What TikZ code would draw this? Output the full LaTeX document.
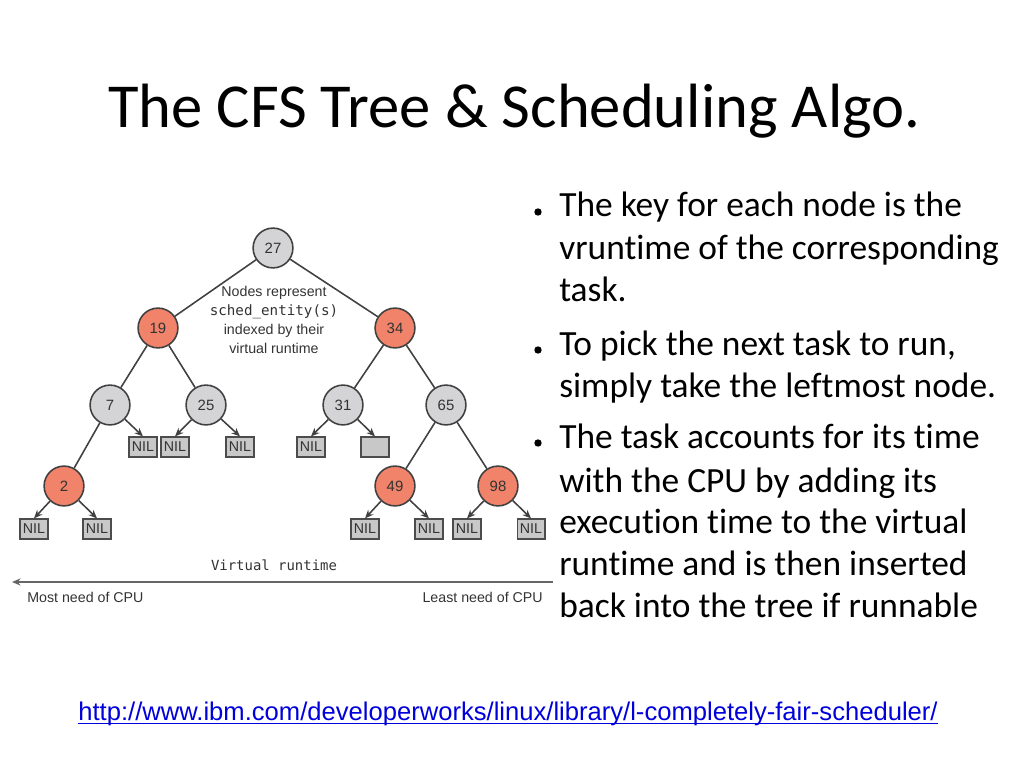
\documentclass[tikz,border=0pt]{standalone}
\usepackage{fontspec}
\setmainfont{Carlito}[Ligatures={NoCommon}]
\newfontfamily\arial{Liberation Sans}
\newfontfamily\dmono{DejaVu Sans Mono}
\usetikzlibrary{arrows.meta}
\definecolor{nodeorange}{RGB}{240,131,106}
\definecolor{nodegray}{RGB}{212,212,214}
\definecolor{nilgray}{RGB}{200,200,200}
\definecolor{linkblue}{RGB}{0,0,220}
\begin{document}
\begin{tikzpicture}[x=0.703125pt,y=-0.703125pt,
  circ/.style={circle,draw=black!75,line width=1.1pt,minimum size=28pt,inner sep=0pt,
    font=\arial\fontsize{10.5}{12}\selectfont,text=black!80},
  gnode/.style={circ,fill=nodegray},
  rnode/.style={circ,fill=nodeorange},
  nilbox/.style={draw=black!70,line width=0.9pt,fill=nilgray,minimum width=19.5pt,
    minimum height=14pt,inner sep=0pt,font=\arial\fontsize{10}{11}\selectfont,text=black!80},
  link/.style={draw=black!75,line width=1.1pt},
  arr/.style={link,-{Stealth[length=6pt,width=5pt]}},
  bt/.style={anchor=base west,inner sep=0pt,font=\fontsize{24.9}{29}\selectfont},
  bdot/.style={circle,fill=black,inner sep=0pt,minimum size=5.2pt},
  small/.style={font=\arial\fontsize{10}{12}\selectfont,text=black!80,inner sep=0pt},
]
\useasboundingbox (0,0) rectangle (1024,768);

% title
\node[anchor=base west,inner sep=0pt,font=\fontsize{44}{52}\selectfont] (title) at (108,128) {The CFS Tree \& Scheduling Algo.};

% tree nodes
\node[gnode] (n27) at (273,248) {27};
\node[rnode] (n19) at (158,328) {19};
\node[rnode] (n34) at (395,328) {34};
\node[gnode] (n7) at (110,405) {7};
\node[gnode] (n25) at (206,405) {25};
\node[gnode] (n31) at (343,405) {31};
\node[gnode] (n65) at (446,405) {65};
\node[rnode] (n2) at (64,486) {2};
\node[rnode] (n49) at (395,486) {49};
\node[rnode] (n98) at (498,486) {98};

\node[nilbox] (a1) at (143,447) {NIL};
\node[nilbox] (a2) at (175,447) {NIL};
\node[nilbox] (a3) at (240,447) {NIL};
\node[nilbox] (a4) at (311,447) {NIL};
\node[nilbox] (a5) at (375,447) {};
\node[nilbox] (b1) at (34,529) {NIL};
\node[nilbox] (b2) at (97,529) {NIL};
\node[nilbox] (b3) at (365,529) {NIL};
\node[nilbox] (b4) at (429,529) {NIL};
\node[nilbox] (b5) at (467,529) {NIL};
\node[nilbox] (b6) at (531,529) {NIL};

\draw[link] (n27) -- (n19);
\draw[link] (n27) -- (n34);
\draw[link] (n19) -- (n7);
\draw[link] (n19) -- (n25);
\draw[link] (n34) -- (n31);
\draw[link] (n34) -- (n65);
\draw[link] (n7) -- (n2);
\draw[link] (n65) -- (n49);
\draw[link] (n65) -- (n98);

\draw[arr] (n7) -- (a1.north);
\draw[arr] (n25) -- (a2.north);
\draw[arr] (n25) -- (a3.north);
\draw[arr] (n31) -- (a4.north);
\draw[arr] (n31) -- (a5.north);
\draw[arr] (n2) -- (b1.north);
\draw[arr] (n2) -- (b2.north);
\draw[arr] (n49) -- (b3.north);
\draw[arr] (n49) -- (b4.north);
\draw[arr] (n98) -- (b5.north);
\draw[arr] (n98) -- (b6.north);

\node[small,align=center,font=\arial\fontsize{10}{13.4}\selectfont] (note) at (274,320)
  {Nodes represent\\{\dmono sched\_entity(s)}\\indexed by their\\virtual runtime};

% axis
\node[inner sep=0pt,font=\dmono\fontsize{9.8}{12}\selectfont,text=black!80] (vr) at (274,565) {Virtual runtime};
\coordinate (axR) at (553,582);
\coordinate (axL) at (12,582);
\draw[draw=black!60,line width=1.4pt,-{Stealth[length=6pt,width=5pt]}] (axR) -- (axL);
\node[small,anchor=west] (most) at (27,597) {Most need of CPU};
\node[small,anchor=east] (least) at (543,597) {Least need of CPU};

% bullets
\node[bt] (t1) at (559,217) {The key for each node is the};
\node[bt] (t2) at (559,260) {vruntime of the corresponding};
\node[bt] (t3) at (559,302) {task.};
\node[bt] (t4) at (559,355) {To pick the next task to run,};
\node[bt] (t5) at (559,397) {simply take the leftmost node.};
\node[bt] (t6) at (559,448) {The task accounts for its time};
\node[bt] (t7) at (559,492) {with the CPU by adding its};
\node[bt] (t8) at (559,533) {execution time to the virtual};
\node[bt] (t9) at (559,575) {runtime and is then inserted};
\node[bt] (t10) at (559,617) {back into the tree if runnable};
\node[bdot] (d1) at (538,212) {};
\node[bdot] (d2) at (538,350) {};
\node[bdot] (d3) at (538,443) {};

% url
\node[anchor=base,inner sep=0pt,font=\arial\fontsize{18}{21}\selectfont,text=linkblue] (url) at (508,720)
  {http://www.ibm.com/developerworks/linux/library/l-completely-fair-scheduler/};
\draw[linkblue,line width=0.8pt] ([yshift=-2.2pt]url.base west) -- ([yshift=-2.2pt]url.base east);
\end{tikzpicture}
\end{document}
